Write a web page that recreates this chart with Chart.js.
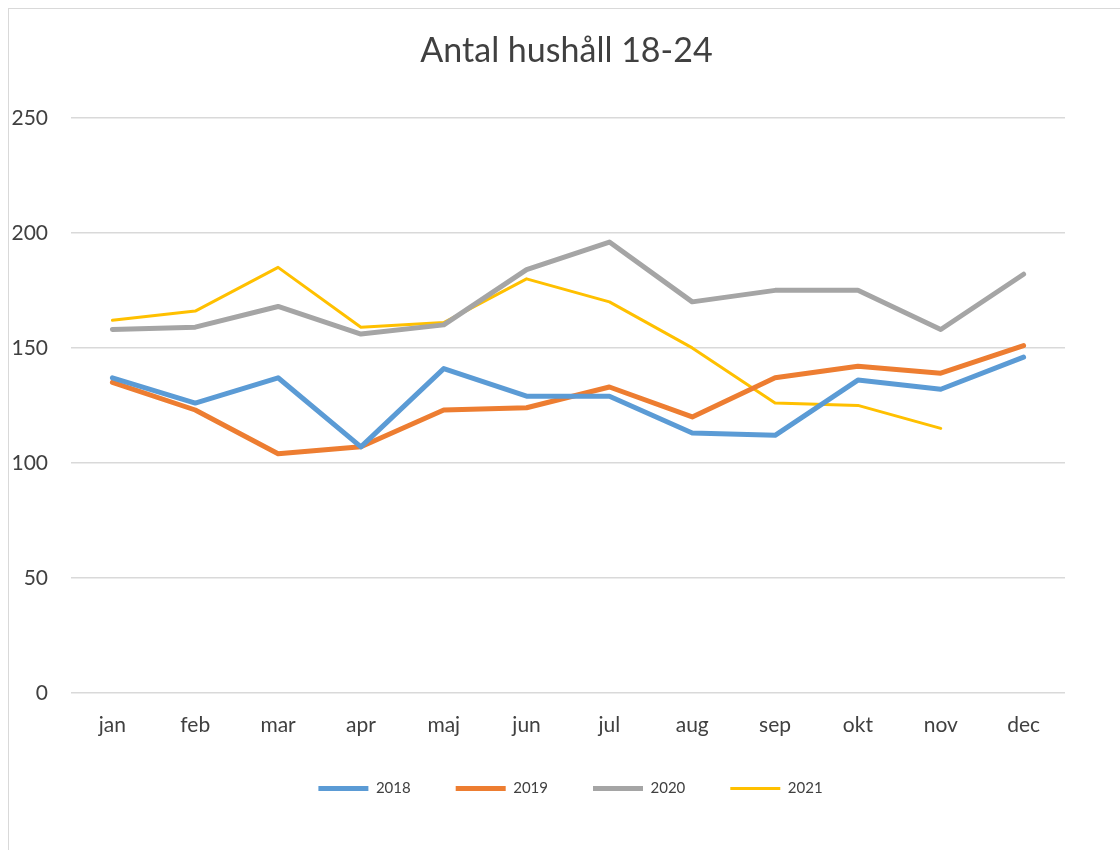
<!DOCTYPE html>
<html>
<head>
<meta charset="utf-8">
<script src="https://cdn.jsdelivr.net/npm/chart.js@4/dist/chart.umd.min.js"></script>
<style>
  body { margin: 0; background: #fff; }
  #frame { position: absolute; left: 8px; top: 8px; width: 1130px; height: 860px; border: 1px solid #d9d9d9; box-sizing: border-box; }
  #wrap { position: absolute; left: 0; top: 0; width: 1120px; height: 850px; }
</style>
</head>
<body>
<div id="frame"></div>
<div id="wrap"><canvas id="chart"></canvas></div>
<script>
const months = ["jan", "feb", "mar", "apr", "maj", "jun", "jul", "aug", "sep", "okt", "nov", "dec"];
const years = ["2018", "2019", "2020", "2021"];
const v2018 = [137, 126, 137, 107, 141, 129, 129, 113, 112, 136, 132, 146];
const v2019 = [135, 123, 104, 107, 123, 124, 133, 120, 137, 142, 139, 151];
const v2020 = [158, 159, 168, 156, 160, 184, 196, 170, 175, 175, 158, 182];
const v2021 = [162, 166, 185, 159, 161, 180, 170, 150, 126, 125, 115, null];
const yTicks = [0, 50, 100, 150, 200, 250];

const colors = ["#5b9bd5", "#ed7d31", "#a5a5a5", "#ffc000"];
const widths = [5, 5, 5, 3];
const FONT = "Lato, 'Open Sans', sans-serif";

const series = [v2018, v2019, v2020, v2021];

const el = (id) => document.getElementById(id);

// title and legend sit a bit right of / above where chart.js puts them
const nudge = {
  id: "nudge",
  afterLayout(chart) {
    chart.titleBlock.left += 34;
    chart.titleBlock.right += 34;
    chart.legend.left += 38;
    chart.legend.right += 38;
    chart.legend.top -= 2;
    chart.legend.bottom -= 2;
  },
};

new Chart(el("chart").getContext("2d"), {
  type: "line",
  data: {
    labels: months,
    datasets: series.map((d, i) => ({
      label: years[i],
      data: d,
      borderColor: colors[i],
      backgroundColor: colors[i],
      borderWidth: widths[i],
      borderCapStyle: "round",
      borderJoinStyle: "round",
      pointRadius: 0,
      pointHoverRadius: 0,
      tension: 0,
      spanGaps: false,
    })),
  },
  options: {
    responsive: true,
    maintainAspectRatio: false,
    animation: false,
    layout: { padding: { left: 0, right: 55, top: 0, bottom: 42 } },
    plugins: {
      title: {
        display: true,
        text: "Antal hushåll 18-24",
        color: "#404040",
        font: { family: FONT, size: 34, weight: "normal" },
        padding: { top: 31, bottom: 46 },
      },
      legend: {
        position: "bottom",
        labels: {
          color: "#404040",
          font: { family: FONT, size: 15 },
          usePointStyle: true,
          pointStyle: "line",
          pointStyleWidth: 50,
          padding: 45,
        },
      },
      tooltip: { enabled: false },
    },
    scales: {
      x: {
        offset: true,
        afterFit: (s) => { s.height = 45; },
        grid: { display: false, drawTicks: false },
        border: { display: false },
        ticks: { color: "#404040", font: { family: FONT, size: 21 }, padding: 20 },
      },
      y: {
        min: 0,
        max: 250,
        afterFit: (s) => { s.width = 71; },
        afterBuildTicks: (s) => { s.ticks = yTicks.map((v) => ({ value: v })); },
        grid: { color: "#d9d9d9", lineWidth: 1.5, drawTicks: false },
        border: { display: false },
        ticks: { color: "#404040", font: { family: FONT, size: 21 }, padding: 23 },
      },
    },
  },
  plugins: [nudge],
});
</script>
</body>
</html>
